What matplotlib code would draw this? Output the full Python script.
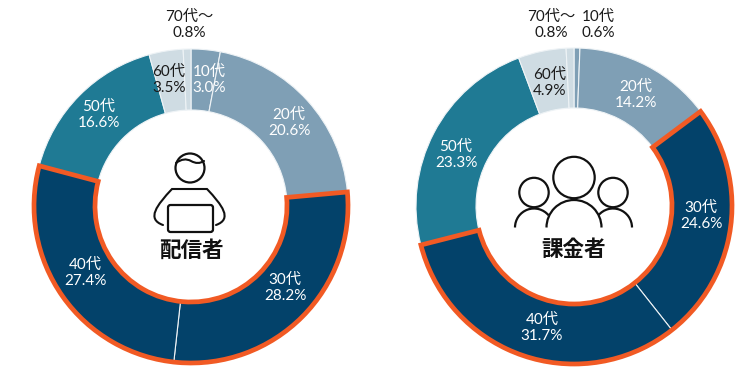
import matplotlib
matplotlib.use("Agg")
import matplotlib.pyplot as plt
from matplotlib.patches import Wedge, Circle, FancyBboxPatch, Arc
from matplotlib.path import Path
from matplotlib.patches import PathPatch

plt.rcParams['font.family'] = ['Lato', 'Noto Sans CJK JP', 'DejaVu Sans']

age_groups = ['10代', '20代', '30代', '40代', '50代', '60代', '70代〜']
streamers = [3.0, 20.6, 28.2, 27.4, 16.6, 3.5, 0.8]
payers = [0.6, 14.2, 24.6, 31.7, 23.3, 4.9, 0.8]
colors = ['#7f9fb5', '#7f9fb5', '#03426a', '#03426a', '#1f7a94', '#cfdce3', '#cfdce3']
DARK = '#1a1a1a'
streamer_label_colors = ['white', 'white', 'white', 'white', 'white', DARK, DARK]
payer_label_colors = [DARK, 'white', 'white', 'white', 'white', DARK, DARK]
titles = ['配信者', '課金者']
highlight = (2, 3)
ORANGE = '#f15a24'
H = 375

streamer_label_xy = [(209, 80), (289, 123), (285, 288), (85, 273), (99, 115), (169, 80), (189, 25)]
payer_label_xy = [(598, 25), (636, 95), (701, 216), (542, 328), (456, 155), (550, 83), (551, 25)]

fig = plt.figure(figsize=(7.48, 3.75), dpi=100, facecolor='white')
ax = fig.add_axes([0, 0, 1, 1])


def donut(values, cx, cy, r_out, r_in, label_xy, label_colors, title, title_y):
    ax.pie(values, colors=colors, center=(cx, H - cy), radius=r_out, startangle=90,
           counterclock=False, frame=True, normalize=True,
           wedgeprops=dict(width=r_out - r_in, edgecolor='#eef3f6', linewidth=0.8))
    total = sum(values)
    before = sum(values[:highlight[0]])
    span = sum(values[highlight[0]:highlight[1] + 1])
    theta2 = 90 - before / total * 360
    theta1 = theta2 - span / total * 360
    ax.add_patch(Wedge((cx, H - cy), r_out, theta1, theta2, width=r_out - r_in,
                       facecolor='none', edgecolor=ORANGE, linewidth=3.4,
                       joinstyle='miter', zorder=5))
    for name, v, xy, c in zip(age_groups, values, label_xy, label_colors):
        ax.text(xy[0], H - xy[1], f'{name}\n{v:.1f}%', color=c, ha='center', va='center',
                fontsize=11, linespacing=1.12, zorder=6)
    ax.text(cx, H - title_y, title, ha='center', va='center', fontsize=15.5,
            fontweight='bold', color='#111111', family=['Noto Sans CJK JP'], zorder=6)


def line(points, codes):
    pts = [(x, H - y) for x, y in points]
    ax.add_patch(PathPatch(Path(pts, codes), facecolor='none', edgecolor='#111111',
                           linewidth=1.5, capstyle='round', zorder=6))


def ring(x, y, r):
    ax.add_patch(Circle((x, H - y), r, facecolor='none', edgecolor='#111111', linewidth=1.6, zorder=6))


def arc(x, y, r, t1, t2):
    ax.add_patch(Arc((x, H - y), 2 * r, 2 * r, theta1=t1, theta2=t2, edgecolor='#111111',
                     linewidth=1.6, zorder=6))


donut(streamers, 191, 206, 157, 96, streamer_label_xy, streamer_label_colors, titles[0], 250)
donut(payers, 574, 206, 158, 98, payer_label_xy, payer_label_colors, titles[1], 250)

# person with laptop icon
C3, C4, M, L = Path.CURVE3, Path.CURVE4, Path.MOVETO, Path.LINETO
ring(190, 168, 14.5)
line([(176, 163), (184, 157), (191, 161), (198, 165), (204, 161)], [M, C3, C3, C3, C3])
line([(163, 225), (146, 219), (157, 205), (172, 189), (207, 189), (222, 205), (233, 219), (216, 225)],
     [M, C4, C4, C4, L, C4, C4, C4])
ax.add_patch(FancyBboxPatch((168, H - 232), 45, 27, boxstyle='round,pad=0,rounding_size=2.5',
                            facecolor='none', edgecolor='#111111', linewidth=1.6, zorder=6))

# group icon
ring(574, 177.5, 20.7)
arc(574, 227.5, 27.5, 0, 180)
ring(534, 192.5, 14.7)
ring(613, 192.5, 14.7)
arc(534, 227.5, 19, 40, 180)
arc(613, 227.5, 19, 0, 140)

ax.set_xlim(0, 748)
ax.set_ylim(0, H)
ax.set_aspect('auto')
ax.axis('off')
fig.savefig('out.png', dpi=100, facecolor='white')
